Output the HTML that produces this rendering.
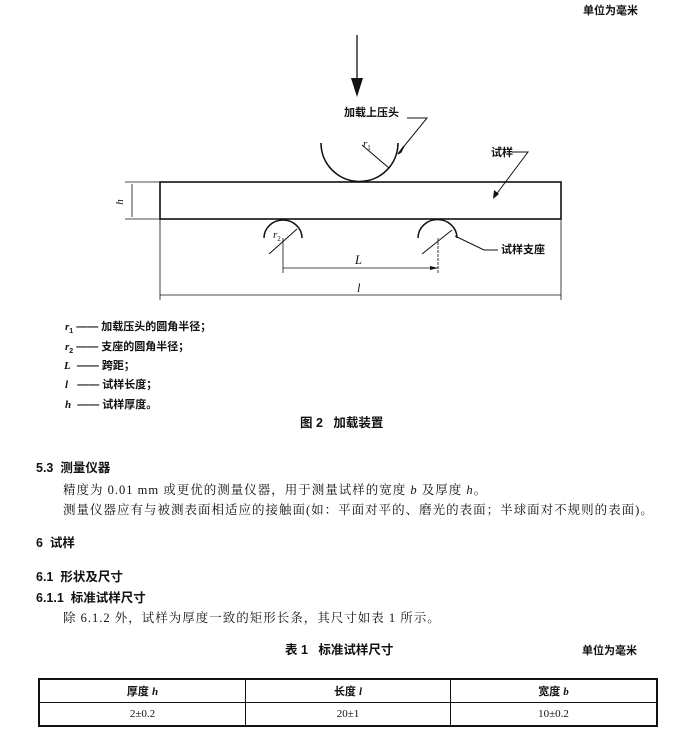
<!DOCTYPE html>
<html><head><meta charset="utf-8"><style>
body{margin:0;width:679px;height:738px;background:#fff;position:relative;overflow:hidden;font-family:"Liberation Serif","Noto Serif CJK SC","Noto Sans CJK SC",serif;color:#111}
.t{position:absolute;white-space:nowrap;font-size:12.5px;line-height:14px}
.p{letter-spacing:1px}
.b{font-weight:bold;font-family:"Liberation Sans","Noto Sans CJK SC",sans-serif}
.s{font-size:11px}
i{font-family:"Liberation Serif",serif}
table{position:absolute;left:38px;top:678px;width:620px;border-collapse:collapse;font-size:11px}
td{border:1px solid #111;height:22px;text-align:center;padding:0}
table{border:2px solid #111}
</style></head><body>
<svg width="679" height="738" style="position:absolute;left:0;top:0" fill="none" stroke="#111" stroke-width="1.3">
<line x1="357" y1="35" x2="357" y2="82"/>
<polygon points="351,78 363,78 357,97" fill="#111" stroke="none"/>
<rect x="160" y="182" width="401" height="37" stroke-width="1.6"/>
<line x1="125" y1="182" x2="160" y2="182" stroke-width="0.8"/>
<line x1="125" y1="219" x2="160" y2="219" stroke-width="0.8"/>
<line x1="132" y1="184" x2="132" y2="217" stroke-width="0.8"/>
<path d="M321,143 A38,38 0 0 0 398,143" stroke-width="1.6"/>
<line x1="362" y1="145" x2="389" y2="168" stroke-width="1"/>
<polyline points="407,118 427,118 401,150" stroke-width="1"/>
<polygon points="398,154 404,146 401,152" fill="#111"/>
<polyline points="512,152 528,152 495,196" stroke-width="1"/>
<polygon points="493,199 494,190 499,194" fill="#111" stroke="none"/>
<path d="M264,238 A19,18 0 0 1 302,238" stroke-width="1.5"/>
<line x1="269" y1="254" x2="297" y2="229" stroke-width="1"/>
<path d="M418,238 A19,18 0 0 1 457,238" stroke-width="1.5"/>
<line x1="422" y1="254" x2="452" y2="230" stroke-width="1"/>
<polyline points="455,236 484,250 498,250" stroke-width="1"/>
<line x1="283" y1="238" x2="283" y2="273" stroke-width="0.8"/>
<line x1="438" y1="238" x2="438" y2="273" stroke-width="0.8" stroke-dasharray="3,1"/>
<line x1="283" y1="268" x2="438" y2="268" stroke-width="0.8"/>
<polygon points="438,268 430,266 430,270" fill="#111" stroke="none"/>
<line x1="160" y1="219" x2="160" y2="300" stroke-width="0.8"/>
<line x1="561" y1="219" x2="561" y2="300" stroke-width="0.8"/>
<line x1="160" y1="295" x2="561" y2="295" stroke-width="0.8"/>
</svg>
<div class="t b s" style="left:583px;top:4px">单位为毫米</div>
<div class="t b s" style="left:344px;top:106px">加载上压头</div>
<div class="t s" style="left:363px;top:137px"><i>r</i><sub style="font-size:7px">1</sub></div>
<div class="t b s" style="left:491px;top:146px">试样</div>
<div class="t s" style="left:117px;top:195px;transform:rotate(-90deg)"><i>h</i></div>
<div class="t s" style="left:273px;top:228px"><i>r</i><sub style="font-size:7px">2</sub></div>
<div class="t b s" style="left:501px;top:243px">试样支座</div>
<div class="t" style="left:355px;top:253px"><i>L</i></div>
<div class="t" style="left:357px;top:281px"><i>l</i></div>
<div class="t b s" style="left:65px;top:320px"><i>r</i><sub style="font-size:7px">1</sub> —— 加载压头的圆角半径；</div>
<div class="t b s" style="left:65px;top:340px"><i>r</i><sub style="font-size:7px">2</sub> —— 支座的圆角半径；</div>
<div class="t b s" style="left:64px;top:359px"><i>L</i> &nbsp;—— 跨距；</div>
<div class="t b s" style="left:65px;top:378px"><i>l</i> &nbsp;&nbsp;—— 试样长度；</div>
<div class="t b s" style="left:65px;top:398px"><i>h</i> &nbsp;—— 试样厚度。</div>
<div class="t b" style="left:300px;top:416px">图 2 &nbsp;&nbsp;加载装置</div>
<div class="t b" style="left:36px;top:461px">5.3 &nbsp;测量仪器</div>
<div class="t p" style="left:63px;top:483px">精度为 0.01 mm 或更优的测量仪器，用于测量试样的宽度 <i>b</i> 及厚度 <i>h</i>。</div>
<div class="t p" style="left:63px;top:503px">测量仪器应有与被测表面相适应的接触面(如：平面对平的、磨光的表面；半球面对不规则的表面)。</div>
<div class="t b" style="left:36px;top:536px">6 &nbsp;试样</div>
<div class="t b" style="left:36px;top:570px">6.1 &nbsp;形状及尺寸</div>
<div class="t b" style="left:36px;top:591px">6.1.1 &nbsp;标准试样尺寸</div>
<div class="t p" style="left:63px;top:611px">除 6.1.2 外，试样为厚度一致的矩形长条，其尺寸如表 1 所示。</div>
<div class="t b" style="left:285px;top:643px">表 1 &nbsp;&nbsp;标准试样尺寸</div>
<div class="t b s" style="left:582px;top:644px">单位为毫米</div>
<table>
<tr><td class="b" style="width:205px">厚度 <i>h</i></td><td class="b" style="width:204px">长度 <i>l</i></td><td class="b">宽度 <i>b</i></td></tr>
<tr><td style="height:19px">2±0.2</td><td>20±1</td><td>10±0.2</td></tr>
</table>
</body></html>
